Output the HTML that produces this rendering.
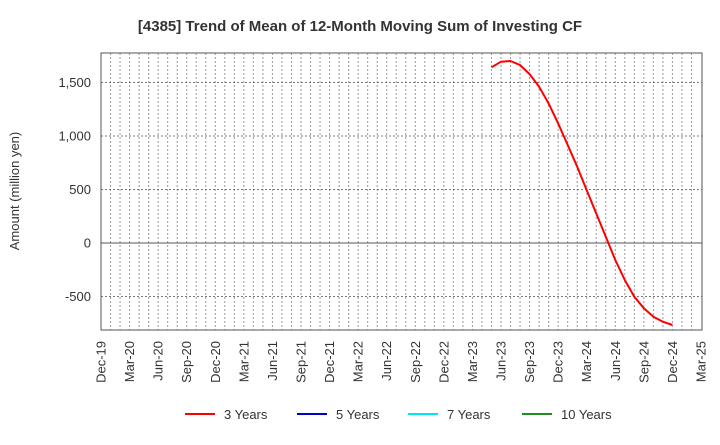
<!DOCTYPE html>
<html><head><meta charset="utf-8"><style>
body{margin:0;background:#fff;font-family:"Liberation Sans",sans-serif}
</style></head><body>
<svg id="chart" width="720" height="440" xmlns="http://www.w3.org/2000/svg">
<text x="360" y="31" text-anchor="middle" font-size="15" font-weight="bold" fill="#333">[4385]  Trend of Mean of 12-Month Moving Sum of Investing CF</text>
<text transform="translate(19,191) rotate(-90)" text-anchor="middle" font-size="13" fill="#333">Amount (million yen)</text>
<g id="grid"></g><g id="axes"></g><g id="series"></g>
<g id="legend"></g>
</svg>
<script>
const months = ["May-23","Jun-23","Jul-23","Aug-23","Sep-23","Oct-23","Nov-23","Dec-23","Jan-24","Feb-24","Mar-24","Apr-24","May-24","Jun-24","Jul-24","Aug-24","Sep-24","Oct-24","Nov-24","Dec-24"];
const monthIndex = [41,42,43,44,45,46,47,48,49,50,51,52,53,54,55,56,57,58,59,60];
const values3y = [1642,1695,1701,1664,1579,1461,1305,1119,916,713,495,277,59,-159,-346,-502,-610,-689,-735,-766];
const yTicks = [-500,0,500,1000,1500];
const yTickLabels = ["-500","0","500","1,000","1,500"];
const xTickLabels = ["Dec-19","Mar-20","Jun-20","Sep-20","Dec-20","Mar-21","Jun-21","Sep-21","Dec-21","Mar-22","Jun-22","Sep-22","Dec-22","Mar-23","Jun-23","Sep-23","Dec-23","Mar-24","Jun-24","Sep-24","Dec-24","Mar-25"];
const legendLabels = ["3 Years","5 Years","7 Years","10 Years"];
const legendColors = ["#ff0000","#0000cc","#00e5ee","#228b22"];

const NS="http://www.w3.org/2000/svg";
const L=101,R=702,T=53,B=330;
const x0=101, pxPerMonth=(701-101)/63;
const xm=m=>x0+m*pxPerMonth;
const ymin=-813,ymax=1776;
const ys=v=>B-(v-ymin)/(ymax-ymin)*(B-T);
function mk(tag,attrs,parent){const e=document.createElementNS(NS,tag);for(const k in attrs)e.setAttribute(k,attrs[k]);parent.appendChild(e);return e;}
const grid=document.getElementById('grid'),axes=document.getElementById('axes'),series=document.getElementById('series'),legend=document.getElementById('legend');
mk('rect',{x:L,y:T,width:R-L,height:B-T,fill:'#fff'},grid);
for(let m=1;m<63;m++){const x=xm(m);
 const g=mk('line',{x1:x,x2:x,y1:T,y2:B,stroke:'#999','stroke-dasharray':'2,2','stroke-width':1},grid);
 
 }
yTicks.forEach((v,i)=>{const y=ys(v);
 const g=mk('line',{x1:L,x2:R,y1:y,y2:y,stroke:v===0?'#555':'#777','stroke-dasharray':v===0?'':'2,2','stroke-width':1},grid);
 
 
 const t=mk('text',{x:L-10,y:y+4.5,'text-anchor':'end','font-size':13,fill:'#333'},axes);t.textContent=yTickLabels[i];
 
 });
xTickLabels.forEach((s,i)=>{const x=xm(i*3);
 const t=mk('text',{transform:`translate(${x+4.5},${B+11}) rotate(-90)`,'text-anchor':'end','font-size':13,fill:'#333'},axes);t.textContent=s;
 
 });
const frame=mk('rect',{x:L,y:T,width:R-L,height:B-T,fill:'none',stroke:'#555','stroke-width':1},axes);


const pts=monthIndex.map((m,i)=>xm(m).toFixed(1)+','+ys(values3y[i]).toFixed(1)).join(' ');
const line=mk('polyline',{points:pts,fill:'none',stroke:'#ff0000','stroke-width':2,'stroke-linejoin':'round'},series);


const lx=[185,297,408,522];
legendLabels.forEach((s,i)=>{
 const g=mk('g',{},legend);
 
 
 mk('line',{x1:lx[i],x2:lx[i]+30,y1:414,y2:414,stroke:legendColors[i],'stroke-width':2},g);
 const t=mk('text',{x:lx[i]+39,y:419,'font-size':13,fill:'#333'},g);t.textContent=s;});
</script>
</body></html>
